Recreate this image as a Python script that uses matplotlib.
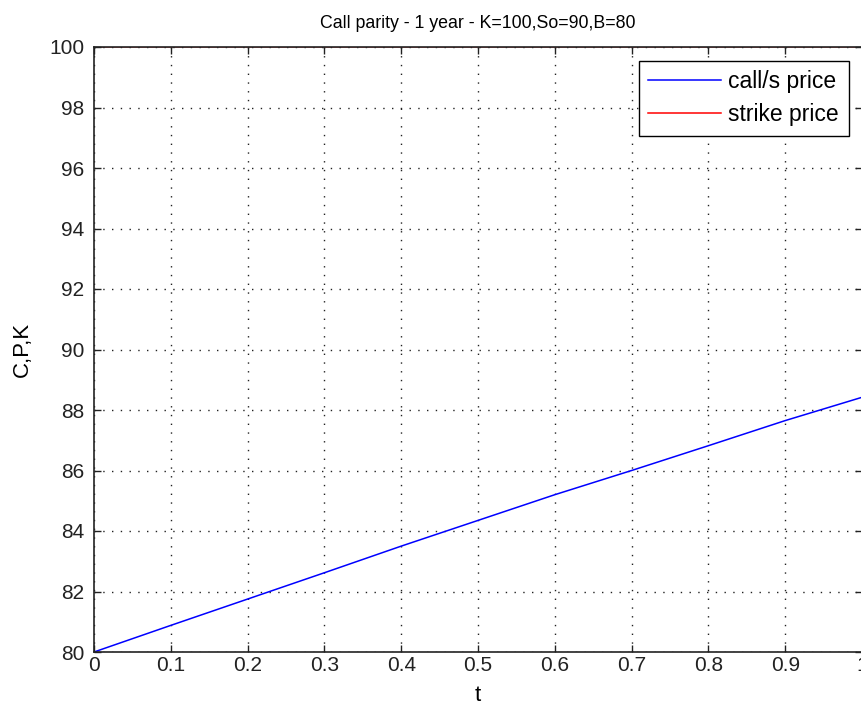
import matplotlib
matplotlib.use("Agg")
import matplotlib.pyplot as plt

# valores
t = [0.0, 0.1, 0.2, 0.3, 0.4, 0.5, 0.6, 0.7, 0.8, 0.9, 1.0]
call_precio = [80.0, 80.88, 81.75, 82.62, 83.5, 84.35, 85.2, 86.0, 86.82, 87.65, 88.42]
strike = [100.0] * len(t)

plt.rcParams['font.family'] = ['Liberation Sans', 'DejaVu Sans']

fig = plt.figure(figsize=(8.61, 7.12), dpi=100)
ax = fig.add_axes([94 / 861, 60 / 712, 768 / 861, 605 / 712])

ax.plot(t, call_precio, color='blue', linewidth=1.1, label='call/s price')
# el strike queda tapado por el borde superior
ax.plot(t, strike, color='red', linewidth=0.4, label='strike price', zorder=1)

ax.set_xlim(0, 1)
ax.set_ylim(80, 100)
ax.set_xticks([i / 10 for i in range(11)])
ax.set_xticklabels(['0', '0.1', '0.2', '0.3', '0.4', '0.5', '0.6', '0.7', '0.8', '0.9', '1'])
ax.set_yticks(range(80, 101, 2))

ax.tick_params(direction='in', length=5, width=1, top=True, right=True,
               labelsize=15, colors='#222222')
ax.tick_params(axis='x', pad=3)
ax.tick_params(axis='y', pad=7)
for s in ax.spines.values():
    s.set_linewidth(1.2)
    s.set_color('#222222')
    s.set_zorder(3)

ax.grid(True, color='#222222', linestyle=(0, (1, 5.3)), linewidth=1.0)

ax.set_title('Call parity - 1 year - K=100,So=90,B=80', fontsize=12.8, pad=14)
ax.set_xlabel('t', fontsize=16, labelpad=7)
ax.set_ylabel('C,P,K', fontsize=16, labelpad=12)

leg = ax.legend(loc='upper right', bbox_to_anchor=(0.9885, 0.985), fontsize=16.5,
                fancybox=False, edgecolor='black', framealpha=1,
                handlelength=3.2, handletextpad=0.3, borderpad=0.42,
                labelspacing=0.42, borderaxespad=0.2)
leg.get_frame().set_linewidth(1)
leg.get_lines()[1].set_linewidth(1.1)

plt.savefig('out.png', dpi=100)
plt.close()
